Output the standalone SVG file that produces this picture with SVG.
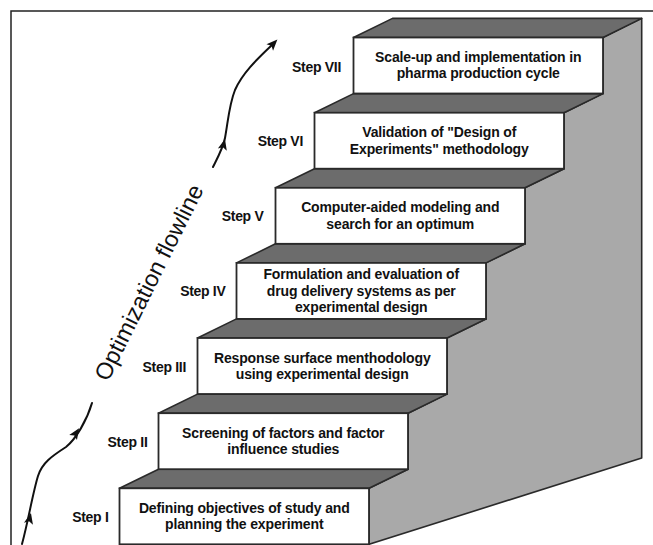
<svg xmlns="http://www.w3.org/2000/svg" xmlns:xlink="http://www.w3.org/1999/xlink" width="653" height="545" viewBox="0 0 653 545">
<style>
.frame{fill:none;stroke:#222;stroke-width:1.5}
.wall{fill:#a9a9a9;stroke:#2a2a2a;stroke-width:1.6;stroke-linejoin:round}
.tread{fill:#6c6c6c;stroke:#2a2a2a;stroke-width:1.6;stroke-linejoin:round}
.riser{fill:#fff;stroke:#2a2a2a;stroke-width:1.8}
.t{font-family:"Liberation Sans",Arial,sans-serif;font-weight:bold;font-size:14px;letter-spacing:-0.15px;fill:#111;text-anchor:middle}
.lbl{font-family:"Liberation Sans",Arial,sans-serif;font-weight:bold;font-size:14px;letter-spacing:-0.3px;fill:#111;text-anchor:end}
.flow{fill:none;stroke:#111;stroke-width:2;stroke-linecap:round}
.ftxt{font-family:"Liberation Sans",Arial,sans-serif;font-size:23.5px;fill:#111;text-anchor:middle}
</style>
<defs>
<path id="ah" d="M2,0 L-9,-4.6 L-6.5,0 L-9,4.6 Z" fill="#111"/>
</defs>
<rect width="653" height="545" fill="#fff"/>
<path class="frame" d="M11,545 L11,11 L653,11"/>
<polygon class="wall" points="641.7,18.4 641.7,458 369,544.3 369,488.3 408,469.2 408,413.2 447,394.1 447,338 486,319 486,262.9 525,243.8 525,187.8 564,168.7 564,112.7 603,93.5 603,37.5"/>
<g id="step1">
<polygon class="tread" points="119.5,488.3 369,488.3 408,469.2 158.5,469.2"/>
<rect class="riser" x="119.5" y="488.3" width="249.5" height="56"/>
<text class="lbl" x="108.5" y="521.8">Step I</text>
<text class="t" x="244.25" y="512.8">Defining objectives of study and</text>
<text class="t" x="244.25" y="529.3">planning the experiment</text>
</g>
<g id="step2">
<polygon class="tread" points="158.5,413.2 408,413.2 447,394.1 197.5,394.1"/>
<rect class="riser" x="158.5" y="413.2" width="249.5" height="56"/>
<text class="lbl" x="147.5" y="446.7">Step II</text>
<text class="t" x="283.25" y="437.7">Screening of factors and factor</text>
<text class="t" x="283.25" y="454.2">influence studies</text>
</g>
<g id="step3">
<polygon class="tread" points="197.5,338 447,338 486,318.9 236.5,318.9"/>
<rect class="riser" x="197.5" y="338" width="249.5" height="56"/>
<text class="lbl" x="186" y="371.5">Step III</text>
<text class="t" x="322.25" y="362.5">Response surface menthodology</text>
<text class="t" x="322.25" y="379">using experimental design</text>
</g>
<g id="step4">
<polygon class="tread" points="236.5,262.9 486,262.9 525,243.8 275.5,243.8"/>
<rect class="riser" x="236.5" y="262.9" width="249.5" height="56"/>
<text class="lbl" x="225.5" y="296.4">Step IV</text>
<text class="t" x="361.25" y="279">Formulation and evaluation of</text>
<text class="t" x="361.25" y="295.5">drug delivery systems as per</text>
<text class="t" x="361.25" y="312">experimental design</text>
</g>
<g id="step5">
<polygon class="tread" points="275.5,187.8 525,187.8 564,168.7 314.5,168.7"/>
<rect class="riser" x="275.5" y="187.8" width="249.5" height="56"/>
<text class="lbl" x="263.5" y="221.3">Step V</text>
<text class="t" x="400.25" y="212.3">Computer-aided modeling and</text>
<text class="t" x="400.25" y="228.8">search for an optimum</text>
</g>
<g id="step6">
<polygon class="tread" points="314.5,112.7 564,112.7 603,93.6 353.5,93.6"/>
<rect class="riser" x="314.5" y="112.7" width="249.5" height="56"/>
<text class="lbl" x="303" y="146.2">Step VI</text>
<text class="t" x="439.25" y="137.2">Validation of "Design of</text>
<text class="t" x="439.25" y="153.7">Experiments" methodology</text>
</g>
<g id="step7">
<polygon class="tread" points="353.5,37.5 603,37.5 641.7,18.4 392.5,18.4"/>
<rect class="riser" x="353.5" y="37.5" width="249.5" height="56"/>
<text class="lbl" x="341" y="71.5">Step VII</text>
<text class="t" x="478.25" y="61.5">Scale-up and implementation in</text>
<text class="t" x="478.25" y="78">pharma production cycle</text>
</g>
<g id="connectors">
<path class="flow" d="M22,544 C28,522 33,492 38,476 C42,463 52,456 66,447 C76,439 87,420 92,403"/>
<use xlink:href="#ah" transform="translate(30.5,515) rotate(-77)"/>
<use xlink:href="#ah" transform="translate(78,430) rotate(-57)"/>
<path class="flow" d="M213,167 C218,157 223,148 225,138 C228,122 229,105 235,90 C242,74 256,60 272,45"/>
<use xlink:href="#ah" transform="translate(224.5,141) rotate(-76)"/>
<use xlink:href="#ah" transform="translate(276,41) rotate(-46)"/>
</g>
<g id="flowlabel">
<text class="ftxt" transform="translate(156,286) rotate(-63.5)">Optimization flowline</text>
</g>
</svg>
